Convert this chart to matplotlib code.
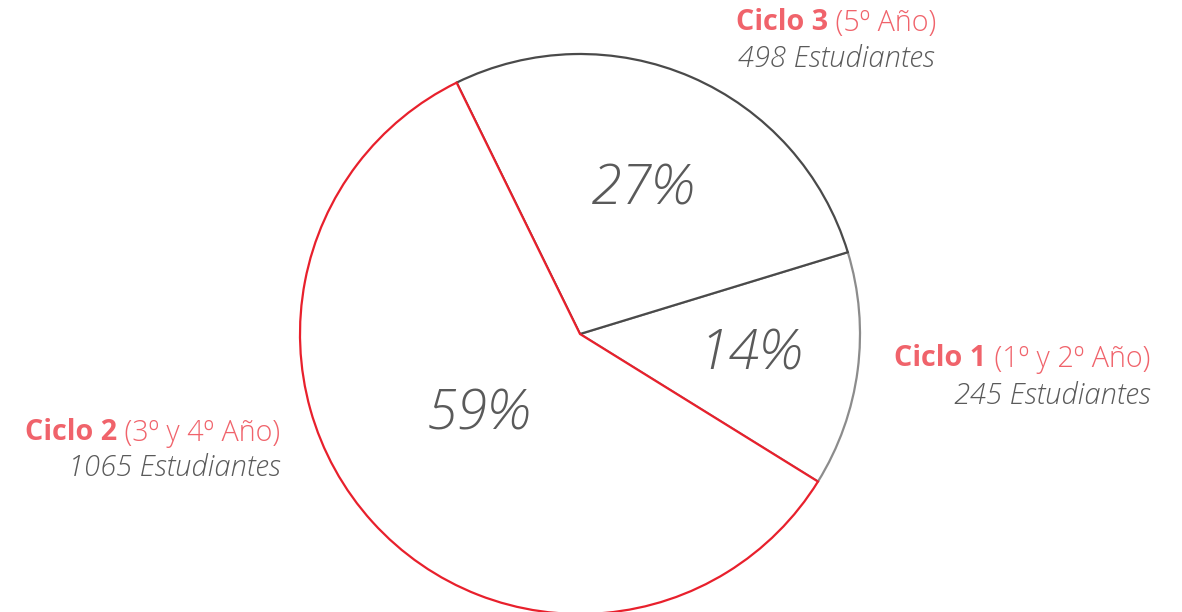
# Distribución de estudiantes por ciclo - gráfico de torta

import matplotlib.pyplot as plt

# Data
ciclos = ['Ciclo 1', 'Ciclo 3', 'Ciclo 2']
anios = ['(1º y 2º Año)', '(5º Año)', '(3º y 4º Año)']
estudiantes = [245, 498, 1065]
porcentajes = ['14%', '27%', '59%']

edge_colors = ['#8c8c8c', '#4a4a4a', '#e8202c']
label_red = '#f0636b'
text_grey = '#5a5a5a'

plt.rcParams['font.family'] = ['Open Sans', 'DejaVu Sans']

fig = plt.figure(figsize=(11.82, 6.12), dpi=100)
ax = fig.add_axes([0, 0, 1, 1])

cx, cy, r = 580, 278, 280
wedges, _ = ax.pie(estudiantes, center=(cx, cy), radius=r, startangle=-31.8,
                   counterclock=True, frame=True,
                   wedgeprops=dict(facecolor='white', linewidth=1.6))
for w, c in zip(wedges, edge_colors):
    w.set_edgecolor(c)
ax.set_xlim(0, 1182)
ax.set_ylim(0, 612)
ax.set_aspect('equal')
ax.axis('off')

# Percent labels inside wedges
pct_pos = [(750, 612 - 355), (643, 612 - 190), (478, 612 - 415)]
for (x, y), p in zip(pct_pos, porcentajes):
    ax.text(x, y, p, fontsize=40, style='italic', fontweight='light',
            color=text_grey, ha='center', va='center')

# Outer labels: (anchor x, line1 y, line2 y, alignment)
label_pos = [(1150, 612 - 359, 612 - 396, 'right'),
             (836, 612 - 23, 612 - 59, 'center'),
             (280, 612 - 433, 612 - 468, 'right')]

fig.canvas.draw()
renderer = fig.canvas.get_renderer()
inv = ax.transData.inverted()


def text_width(t):
    bb = t.get_window_extent(renderer)
    p0 = inv.transform((bb.x0, bb.y0))
    p1 = inv.transform((bb.x1, bb.y1))
    return p1[0] - p0[0]


for (x, y1, y2, align), ciclo, anio, n in zip(label_pos, ciclos, anios, estudiantes):
    bold = ax.text(0, y1, ciclo, fontsize=20.7, fontweight='bold', color=label_red,
                   ha='left', va='center')
    reg = ax.text(0, y1, ' ' + anio, fontsize=20.7, fontweight='light', color=label_red,
                  ha='left', va='center')
    wb = text_width(bold)
    wr = text_width(reg)
    if align == 'right':
        x0 = x - wb - wr
    else:
        x0 = x - (wb + wr) / 2
    bold.set_x(x0)
    reg.set_x(x0 + wb)
    ax.text(x, y2, f'{n} Estudiantes', fontsize=21, style='italic', fontweight='light',
            color=text_grey, ha=align, va='center')

fig.savefig('out.png', dpi=100, facecolor='white')
